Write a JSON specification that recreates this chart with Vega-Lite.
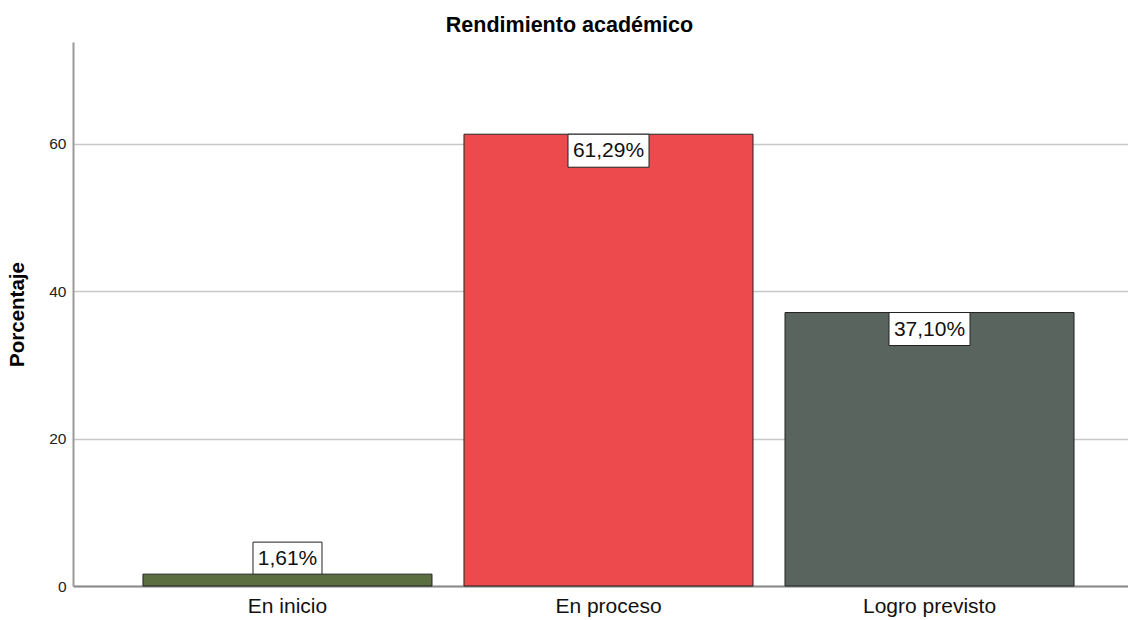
{
  "$schema": "https://vega.github.io/schema/vega-lite/v6.json",
  "width": 1055,
  "height": 544,
  "autosize": "none",
  "padding": {"left": 73, "top": 42, "right": 0, "bottom": 34},
  "background": "white",
  "title": {"text": "Rendimiento académico", "fontSize": 21.5, "font": "Liberation Sans", "fontWeight": "bold", "color": "#000000", "baseline": "alphabetic", "frame": "group", "offset": 10, "dx": -31, "dy": 21, "anchor": "middle"},
  "data": {"values": [
    {"cat": "En inicio", "pct": 1.61, "label": "1,61%"},
    {"cat": "En proceso", "pct": 61.29, "label": "61,29%"},
    {"cat": "Logro previsto", "pct": 37.10, "label": "37,10%"}
  ]},
  "encoding": {
    "x": {"field": "cat", "type": "nominal", "sort": null,
      "scale": {"range": [0, 1071], "paddingInner": 0.0997, "paddingOuter": 0.218},
      "axis": {"title": null, "labelAngle": 0, "labelFontSize": 21, "labelColor": "#111111", "labelPadding": 9, "ticks": false, "domain": true, "domainColor": "#8a8a8a", "domainWidth": 2, "grid": false}},
    "y": {"field": "pct", "type": "quantitative",
      "scale": {"domain": [0, 73.8], "nice": false},
      "axis": {"title": "Porcentaje", "titleFontSize": 20.5, "titleFontWeight": "bold", "titleColor": "#000000", "titlePadding": 21, "values": [0, 20, 40, 60], "labelFontSize": 15.5, "labelColor": "#222222", "labelPadding": 7, "ticks": false, "domain": true, "domainColor": "#9a9a9a", "domainWidth": 2, "grid": true, "gridColor": "#c8c8c8", "gridWidth": 1.5}}
  },
  "layer": [
    {"mark": {"type": "bar", "stroke": "#222222", "strokeWidth": 1},
     "encoding": {"color": {"field": "cat", "type": "nominal", "legend": null,
        "scale": {"domain": ["En inicio", "En proceso", "Logro previsto"], "range": ["#5a6e40", "#ec4a4d", "#5a645e"]}}}},
    {"transform": [{"filter": "datum.pct > 10"}],
     "mark": {"type": "point", "shape": "M-40.5,0L40.5,0L40.5,33L-40.5,33Z", "size": 4, "filled": true, "fill": "white", "stroke": "#222222", "strokeWidth": 1, "opacity": 1}},
    {"transform": [{"filter": "datum.pct <= 10"}],
     "mark": {"type": "point", "shape": "M-34.5,-32L34.5,-32L34.5,0L-34.5,0Z", "size": 4, "filled": true, "fill": "white", "stroke": "#222222", "strokeWidth": 1, "opacity": 1}},
    {"transform": [{"filter": "datum.pct > 10"}],
     "mark": {"type": "text", "fontSize": 21, "color": "#111111", "baseline": "middle", "dy": 17},
     "encoding": {"text": {"field": "label"}}},
    {"transform": [{"filter": "datum.pct <= 10"}],
     "mark": {"type": "text", "fontSize": 21, "color": "#111111", "baseline": "middle", "dy": -15},
     "encoding": {"text": {"field": "label"}}}
  ],
  "config": {"font": "Liberation Sans", "view": {"stroke": null}}
}
